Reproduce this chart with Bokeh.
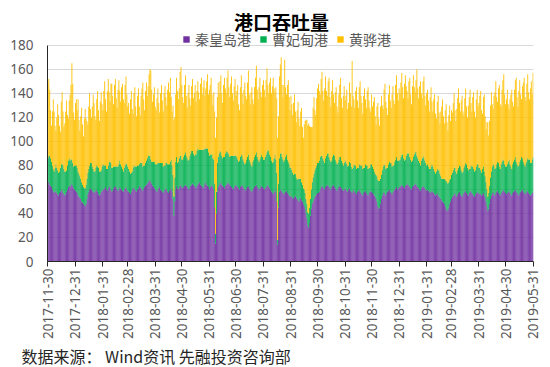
import math
import pandas as pd
from bokeh.plotting import figure
from bokeh.models import (ColumnDataSource, Range1d, FixedTicker, Legend, LegendItem,
                          Label, Title, DatetimeTickFormatter)
from bokeh.embed import file_html
from bokeh.resources import INLINE

start_date = "2017-11-30"
series_names = ["秦皇岛港", "曹妃甸港", "黄骅港"]
series_colors = ["#7030A0", "#00B050", "#FFC000"]

# 秦皇岛港 (daily, 2017-11-30 .. 2019-05-31)
qhd = [66,
    66,64,63,62,60,58,57,58,59,57, 56,55,57,58,60,59,57,56,55,56, 58,60,62,63,62,64,65,63,61,60, 59,
    58,57,55,54,53,52,50,49,48,47, 46,48,52,56,58,60,61,60,59,58, 57,58,59,60,58,56,55,56,58,59, 60,
    60,61,62,60,59,61,63,62,60,58, 59,61,62,63,61,60,59,60,62,61, 60,59,58,60,61,62,60,59,
    58,57,56,58,60,61,62,60,59,58, 60,61,63,62,61,60,59,61,62,63, 64,65,66,67,68,66,65,63,62,61, 60,
    59,58,60,61,62,60,59,58,57,59, 60,61,60,58,57,59,60,61,58,52, 38,50,60,63,61,60,62,63,64,62,
    61,62,63,64,63,62,61,60,62,63, 64,65,64,63,62,61,63,64,65,66, 64,63,62,61,63,65,66,64,63,62, 60,
    62,63,64,62,60,45,15,40,58,62, 64,65,66,64,63,62,61,63,64,65, 66,65,64,63,62,61,60,62,63,64,
    63,62,61,60,62,63,64,62,61,60, 59,61,62,63,61,60,59,58,60,61, 62,63,64,62,61,60,61,62,63,62, 61,
    60,61,62,63,64,62,61,60,58,57, 56,58,60,58,50,14,45,58,60,59, 58,57,56,57,58,59,57,56,55,54, 55,
    54,53,52,54,55,53,52,51,50,52, 53,51,50,48,46,44,40,36,30,28, 32,38,44,48,50,52,54,55,56,57,
    57,58,60,62,63,62,61,60,62,63, 64,63,62,61,60,62,63,64,62,61, 60,59,61,62,63,62,61,60,59,60, 61,
    60,59,58,60,61,59,58,57,59,60, 58,57,56,58,59,60,58,57,56,55, 57,58,59,57,56,55,57,58,59,58,
    57,56,55,54,52,50,46,44,45,48, 52,55,57,58,56,55,57,58,59,60, 58,57,56,58,59,60,61,62,60,61, 62,
    62,63,64,63,62,61,63,64,65,64, 63,62,61,60,62,63,64,65,64,63, 62,61,60,59,61,62,63,62,61,60, 59,
    60,59,58,57,58,59,58,57,56,55, 56,57,55,54,53,52,51,50,49,48, 46,44,42,43,45,48,50,52,
    54,55,56,57,55,54,56,57,58,56, 55,54,56,57,58,59,57,56,55,57, 58,59,57,56,55,54,56,57,58,57, 56,
    57,56,55,56,57,55,53,50,46,42, 44,48,52,55,57,58,56,55,57,58, 59,57,56,55,57,58,59,60,58,57,
    56,57,58,59,57,56,55,57,58,59, 60,58,57,56,55,57,58,59,60,58, 57,56,57,58,59,57,56,55,56,57, 58]

# 曹妃甸港
cfd = [20,
    22,24,23,21,20,19,18,20,22,21, 20,19,18,20,21,22,23,21,20,19, 18,20,22,23,22,21,20,19,18,20, 21,
    22,21,20,19,18,17,16,15,14,14, 15,16,17,18,19,20,21,22,20,19, 18,17,19,20,21,22,20,19,18,20, 21,
    20,19,18,17,18,19,20,21,22,20, 19,18,17,16,18,19,20,21,22,20, 19,18,17,18,19,20,21,20,
    19,18,17,16,15,17,18,19,20,21, 20,19,18,20,21,22,20,19,18,19, 20,21,22,21,20,19,18,20,21,22, 21,
    22,23,22,21,20,22,23,24,22,21, 20,21,22,23,24,22,23,24,22,20, 16,20,23,24,21,23,24,25,24,23,
    24,25,26,27,25,24,23,25,26,27, 28,27,26,25,27,28,29,30,28,27, 29,30,31,32,30,29,28,30,31,29, 28,
    27,26,25,24,25,20,8,18,24,25, 26,27,25,24,23,25,26,27,28,26, 25,24,23,25,26,27,28,26,25,24,
    24,23,22,24,25,26,24,23,22,21, 23,24,25,26,24,23,22,21,23,24, 25,26,27,25,24,23,24,25,26,25, 24,
    25,26,27,28,29,30,28,27,26,25, 27,28,29,27,24,4,20,28,30,31, 29,28,27,28,29,30,28,27,26,24, 23,
    22,21,20,19,18,17,16,18,19,17, 16,15,14,13,14,13,12,12,11,12, 13,14,16,18,20,21,22,23,24,25,
    25,26,27,26,25,24,23,22,24,25, 26,27,25,24,23,22,24,25,26,24, 23,22,21,23,24,25,23,22,21,22, 23,
    23,22,21,20,22,23,21,20,19,21, 22,23,21,20,19,21,22,23,24,22, 21,20,22,23,24,22,21,20,22,23,
    22,21,20,19,20,21,22,23,22,21, 20,21,22,23,24,22,21,20,22,23, 24,25,23,22,21,23,24,25,24,23, 22,
    23,24,25,26,24,23,22,24,25,26, 27,25,24,23,22,24,25,26,27,25, 24,23,22,21,23,24,25,24,23,22, 21,
    21,20,19,20,21,22,21,20,19,18, 19,20,21,22,20,19,18,19,20,21, 22,23,24,22,21,20,19,20,
    20,21,22,21,20,19,20,21,22,23, 21,20,19,21,22,23,24,22,21,20, 19,21,22,23,22,21,20,22,23,24, 22,
    21,20,19,21,22,20,18,16,14,12, 13,15,18,20,22,23,24,22,21,23, 24,25,23,22,24,25,26,24,23,22,
    23,24,25,26,24,23,22,24,25,26, 27,25,24,23,25,26,27,28,26,25, 24,23,25,26,27,28,29,27,26,28, 29]

# 黄骅港
hhg = [62,
    64,55,40,30,45,58,50,35,28,42, 55,48,38,30,52,60,45,35,40,50, 58,42,35,48,55,62,80,66,45,38, 52,
    55,48,60,45,38,52,62,50,42,58, 66,55,48,40,52,60,45,38,50,62, 57,46,40,55,63,48,42,58,65,52, 45,
    62,70,55,48,65,72,58,50,66,70, 60,52,68,73,57,49,64,70,58,52, 66,71,60,54,67,72,58,50,
    55,48,62,68,52,45,60,66,50,42, 58,64,48,40,56,62,70,55,46,60, 65,52,58,68,72,74,60,50,56,62, 48,
    45,55,62,50,42,58,65,52,46,60, 66,55,48,62,68,60,70,52,45,58, 64,50,56,66,60,52,58,70,74,62,
    52,45,58,64,50,42,56,62,48,40, 54,60,46,52,58,44,50,56,48,42, 55,60,46,52,58,44,50,56,62,48, 55,
    58,64,50,44,56,60,80,62,55,62, 50,58,64,52,46,60,66,54,48,62, 68,56,50,60,66,52,46,58,64,50,
    55,62,48,42,58,66,52,46,60,68, 56,50,62,70,54,48,60,66,52,46, 58,64,72,56,50,62,68,54,48,60, 66,
    58,50,62,70,54,48,60,66,56,64, 70,58,52,60,62,85,56,68,74,80, 60,52,64,83,58,50,62,68,56,48, 60,
    55,48,60,66,52,46,58,64,50,44, 56,62,48,42,54,60,66,70,72,75, 68,60,52,46,58,64,50,44,56,62,
    66,58,52,64,70,56,50,62,68,54, 48,60,66,52,46,58,64,50,44,56, 62,48,42,54,60,66,52,46,58,64, 50,
    55,62,48,52,66,58,50,90,60,54, 48,62,68,56,50,64,70,58,52,46, 60,66,54,48,62,68,56,50,44,58,
    50,56,62,48,42,58,64,52,46,60, 66,54,48,62,68,56,50,44,58,64, 52,46,60,66,54,48,62,68,56,50, 60,
    55,62,68,56,50,64,70,58,52,46, 60,66,54,48,62,68,56,50,60,72, 58,52,64,70,56,50,62,68,54,48, 60,
    62,55,48,60,66,52,46,58,64,50, 44,56,62,48,42,54,60,66,52,46, 58,64,50,44,56,62,48,54,
    50,56,62,48,42,54,60,66,52,46, 58,64,50,44,56,62,48,42,54,60, 66,52,46,58,64,50,44,56,62,48, 54,
    60,66,52,46,58,64,50,44,56,62, 48,54,60,66,52,46,58,64,72,56, 50,62,68,54,48,60,66,72,58,52,
    56,62,48,42,54,60,66,52,46,58, 64,70,56,50,62,68,54,48,60,66, 72,58,52,64,70,56,50,62,68,54, 70]

tick_dates = ["2017-11-30", "2017-12-31", "2018-01-31", "2018-02-28", "2018-03-31",
              "2018-04-30", "2018-05-31", "2018-06-30", "2018-07-31", "2018-08-31",
              "2018-09-30", "2018-10-31", "2018-11-30", "2018-12-31", "2019-01-31",
              "2019-02-28", "2019-03-31", "2019-04-30", "2019-05-31"]
y_ticks = [0, 20, 40, 60, 80, 100, 120, 140, 160, 180]

title_text = "港口吞吐量"
source_text = "数据来源： Wind资讯 先融投资咨询部"

n = min(len(qhd), len(cfd), len(hhg))
dates = pd.date_range(start_date, periods=n, freq="D")
src = ColumnDataSource(dict(date=dates, qhd=qhd[:n], cfd=cfd[:n], hhg=hhg[:n]))

# frame spans the full top area so that title and legend can sit inside it;
# value 180 stays at the same pixel as in the reference (45 px from the top)
frame_h = 262
y_top = 180 * frame_h / (frame_h - 45)

half_day = pd.Timedelta(hours=12)
p = figure(width=550, height=367, x_axis_type="datetime",
           x_range=Range1d(dates[0] - half_day, dates[-1] + half_day),
           y_range=Range1d(0, y_top),
           output_backend="svg", toolbar_location=None,
           min_border_left=47, min_border_right=17, min_border_top=0, min_border_bottom=105)

renderers = p.vbar_stack(["qhd", "cfd", "hhg"], x="date", width=1.0 * 86400000,
                         color=series_colors, line_color=None, source=src)

p.outline_line_color = None
p.xgrid.grid_line_color = None
p.ygrid.grid_line_color = "#D9D9D9"
p.ygrid.grid_line_width = 1

tick_ms = [pd.Timestamp(d).value / 1e6 for d in tick_dates]
p.xaxis.ticker = FixedTicker(ticks=tick_ms)
fmt = "%Y-%m-%d"
p.xaxis.formatter = DatetimeTickFormatter(milliseconds=fmt, seconds=fmt, minsec=fmt, minutes=fmt,
                                          hourmin=fmt, hours=fmt, days=fmt, months=fmt, years=fmt)
p.xaxis.major_label_orientation = math.pi / 2
p.xaxis.major_label_text_font = "Noto Sans"
p.xaxis.major_label_text_font_size = "13.5px"
p.xaxis.major_label_text_color = "#595959"
p.xaxis.major_tick_out = 5
p.xaxis.major_tick_in = 0
p.xaxis.minor_tick_line_color = None
p.xaxis.major_label_standoff = 2
p.xaxis.axis_line_color = "#262626"
p.xaxis.major_tick_line_color = "#262626"

p.yaxis.ticker = FixedTicker(ticks=y_ticks)
p.yaxis.bounds = (0, 180)
p.yaxis.major_label_text_font = "Noto Sans"
p.yaxis.major_label_text_font_size = "13.5px"
p.yaxis.major_label_text_color = "#595959"
p.yaxis.major_tick_out = 0
p.yaxis.major_tick_in = 0
p.yaxis.minor_tick_line_color = None
p.yaxis.major_label_standoff = 14
p.yaxis.axis_line_color = "#262626"

title_label = Label(x=234, y=frame_h - 22, x_units="screen", y_units="screen", text=title_text,
                    text_font="Noto Sans CJK SC", text_font_size="19px", text_font_style="bold",
                    text_color="#000000", text_align="center", text_baseline="middle")
p.add_layout(title_label)

legend = Legend(items=[LegendItem(label=nm, renderers=[r]) for nm, r in zip(series_names, renderers)],
                orientation="horizontal", location=(135, frame_h - 50),
                glyph_width=8, glyph_height=8, label_standoff=5, spacing=8,
                padding=0, margin=0, label_height=16,
                label_text_font="Noto Sans CJK SC", label_text_font_size="14px",
                label_text_color="#595959", border_line_color=None,
                background_fill_alpha=0)
p.add_layout(legend, "center")

src_title = Title(text=source_text, align="left", offset=-26, standoff=0,
                  text_font="Noto Sans CJK SC", text_font_size="16px",
                  text_font_style="normal", text_color="#262626")
p.add_layout(src_title, "below")

open("out.html", "w").write(file_html(p, INLINE))
